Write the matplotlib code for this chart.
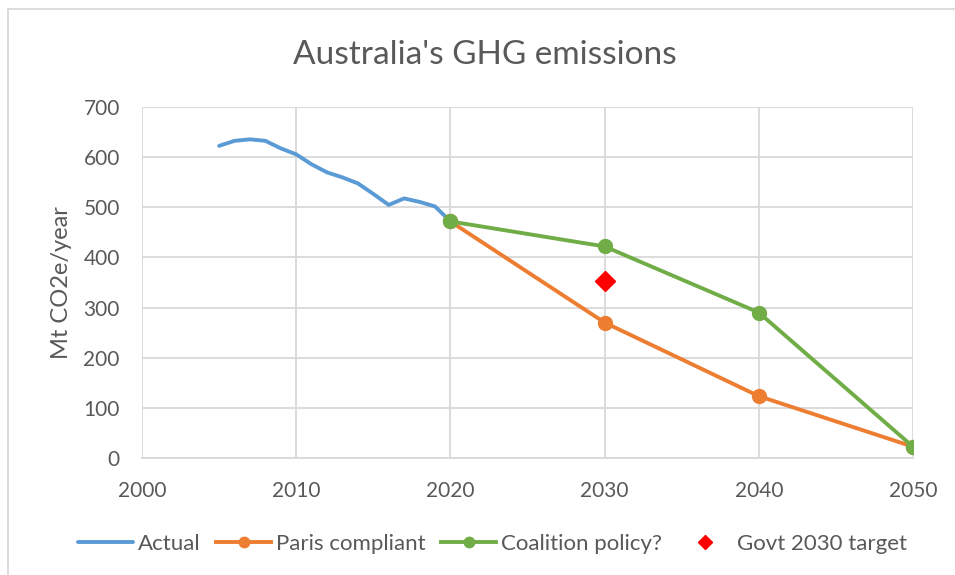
import matplotlib
matplotlib.use("Agg")
import matplotlib.pyplot as plt
from matplotlib.patches import Rectangle

plt.rcParams['font.family'] = ['Lato', 'DejaVu Sans']

# actual emissions, Mt CO2e/year
actual_years = [2005, 2006, 2007, 2008, 2009, 2010, 2011, 2012, 2013, 2014,
                2015, 2016, 2017, 2018, 2019, 2020]
actual_vals = [623, 633, 636, 633, 618, 606, 586, 570, 560, 548,
               527, 505, 518, 511, 502, 472]

scenario_years = [2020, 2030, 2040, 2050]
paris_vals = [472, 270, 123, 22]
coalition_vals = [472, 422, 290, 22]

target_year = [2030]
target_val = [352]

xticks = [2000, 2010, 2020, 2030, 2040, 2050]
yticks = [0, 100, 200, 300, 400, 500, 600, 700]

text_col = '#595959'
grid_col = '#d9d9d9'

fig = plt.figure(figsize=(9.55, 5.75), dpi=100)
ax = fig.add_axes([142/955, 1 - 457.7/575, (913-142)/955, (457.7-107.3)/575])

ax.plot(actual_years, actual_vals, color='#5B9BD5', lw=2.8, label='Actual',
        solid_capstyle='round', zorder=3)
ax.plot(scenario_years, paris_vals, color='#ED7D31', lw=2.8, marker='o',
        ms=10, label='Paris compliant', zorder=4)
ax.plot(scenario_years, coalition_vals, color='#70AD47', lw=2.8, marker='o',
        ms=10, label='Coalition policy?', zorder=5)
ax.plot(target_year, target_val, ls='none', marker='D', color='#FF0000',
        ms=10, label='Govt 2030 target', zorder=6)

ax.set_xlim(2000, 2050)
ax.set_ylim(0, 700)
ax.set_xticks(xticks)
ax.set_yticks(yticks)
ax.grid(True, color=grid_col, lw=1.3)
ax.set_axisbelow(True)
for s in ['top', 'right', 'left']:
    ax.spines[s].set_visible(False)
ax.spines['bottom'].set_color(grid_col)
ax.spines['bottom'].set_linewidth(1.3)
ax.tick_params(length=0, labelsize=15, colors=text_col)
ax.tick_params(axis='x', pad=17)
ax.tick_params(axis='y', pad=16)

ax.set_ylabel('Mt CO2e/year', fontsize=17, color=text_col, va='center')
ax.yaxis.set_label_coords(-0.104, 0.5)
fig.text(0.508, 1 - 55/575, "Australia's GHG emissions", ha='center',
         va='center', fontsize=24, color=text_col)

leg = fig.legend(loc='center', bbox_to_anchor=(0.516, 1 - 544/575), ncol=4,
                 frameon=False, fontsize=16, handlelength=2.45,
                 columnspacing=0.72, handletextpad=0.22, markerscale=0.75)
for t in leg.get_texts():
    t.set_color(text_col)

# outer chart border (cropped at right and bottom)
fig.patches.append(Rectangle((8/955, -0.1), 1.1, 1 - 9/575 + 0.1,
                             transform=fig.transFigure, fill=False,
                             edgecolor=grid_col, lw=1.3))

fig.savefig('out.png', dpi=100)
